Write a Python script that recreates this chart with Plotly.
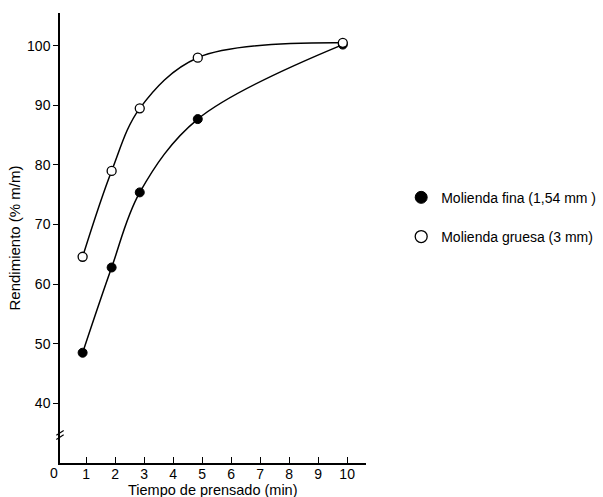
import plotly.graph_objects as go

tiempo = [0.88, 1.88, 2.85, 4.85, 9.85]
fina = [48.5, 62.8, 75.4, 87.7, 100.2]
gruesa = [64.6, 79.0, 89.5, 98.0, 100.5]
x_ticks = list(range(0, 11))
y_ticks = [40, 50, 60, 70, 80, 90, 100]
nombres = ["Molienda fina (1,54 mm )", "Molienda gruesa (3 mm)"]

FAM = "Liberation Sans, Arial, sans-serif"

fig = go.Figure()
fig.add_trace(go.Scatter(
    x=tiempo, y=fina, mode="lines+markers", line_shape="spline",
    name=nombres[0], showlegend=False,
    line=dict(color="black", width=1.5),
    marker=dict(symbol="circle", size=9, color="black", line=dict(color="black", width=1)),
))
fig.add_trace(go.Scatter(
    x=tiempo, y=gruesa, mode="lines+markers", line_shape="spline",
    name=nombres[1], showlegend=False,
    line=dict(color="black", width=1.5),
    marker=dict(symbol="circle", size=9, color="white", line=dict(color="black", width=1.3)),
))
# legend-only entries (markers only, like the reference)
fig.add_trace(go.Scatter(
    x=[None], y=[None], mode="markers", name=nombres[0], legendgroup="a",
    marker=dict(symbol="circle", size=12, color="black", line=dict(color="black", width=1)),
))
fig.add_trace(go.Scatter(
    x=[None], y=[None], mode="markers", name=nombres[1], legendgroup="b",
    marker=dict(symbol="circle", size=12, color="white", line=dict(color="black", width=1.3)),
))

fig.update_layout(
    width=603, height=497,
    margin=dict(l=60, r=237, t=13, b=34, autoexpand=False),
    paper_bgcolor="white", plot_bgcolor="white",
    font=dict(family=FAM, size=14, color="black"),
    showlegend=True,
    legend=dict(x=1.115, y=0.625, xanchor="left", yanchor="top",
                font=dict(size=14, family=FAM, color="black"),
                tracegroupgap=18, itemwidth=30, bgcolor="rgba(0,0,0,0)"),
    xaxis=dict(range=[0.1, 10.65], tickmode="array", tickvals=x_ticks,
               ticktext=[str(v) for v in x_ticks],
               showgrid=False, zeroline=False, showline=True, linecolor="black", linewidth=1.5,
               ticks="inside", ticklen=6, tickcolor="black", tickwidth=1,
               tickfont=dict(size=14), ticklabelstandoff=-3,
               fixedrange=True),
    yaxis=dict(range=[30, 105.5], tickmode="array", tickvals=y_ticks,
               showgrid=False, zeroline=False, showline=True, linecolor="black", linewidth=1.5,
               ticks="outside", ticklen=5, tickcolor="black", tickwidth=1,
               tickfont=dict(size=14),
               title=dict(text="Rendimiento (% m/m)", standoff=3, font=dict(size=15)),
               fixedrange=True),
)

# x-axis title
fig.add_annotation(x=0.5, y=0, xref="paper", yref="paper", text="Tiempo de prensado (min)",
                   showarrow=False, xanchor="center", yanchor="middle", yshift=-27,
                   font=dict(size=14.5))

# "0" label at origin
fig.add_annotation(x=0, y=0, xref="paper", yref="paper", text="0", showarrow=False,
                   xanchor="center", yanchor="middle", xshift=-6, yshift=-10, font=dict(size=14))

# axis break marks
for dy in (-3, 3):
    fig.add_shape(type="line", xref="paper", yref="y",
                  x0=-0.012, x1=0.012, y0=34.7 + dy * 0.12 - 0.4, y1=34.7 + dy * 0.12 + 0.4,
                  line=dict(color="black", width=1.2))

fig.write_html("out.html")
